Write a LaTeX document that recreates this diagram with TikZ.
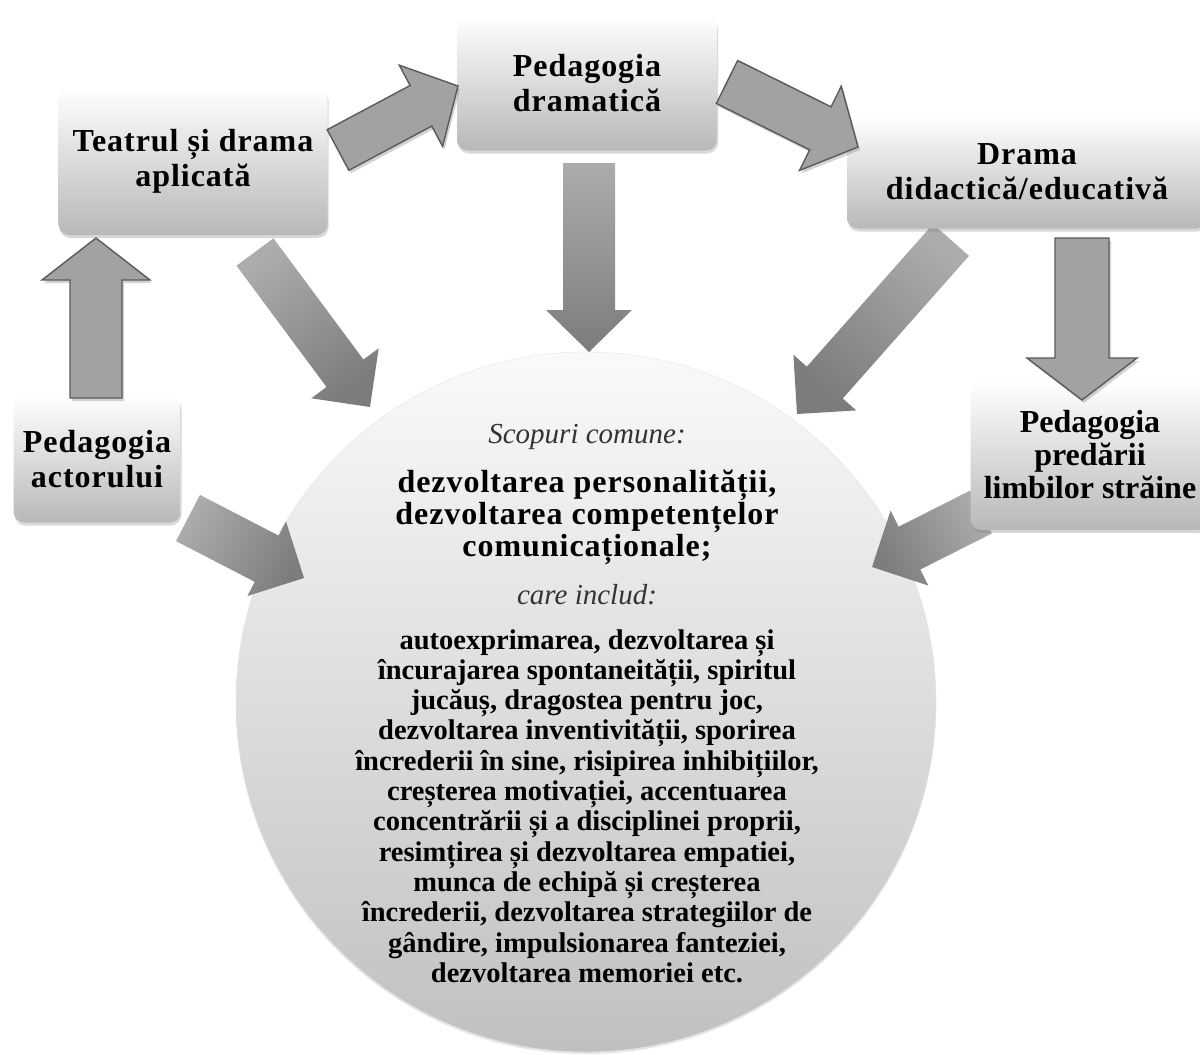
\documentclass[tikz,border=0pt]{standalone}
\usepackage{fontspec}
\setmainfont{Liberation Serif}
\newfontfamily\widefont[LetterSpace=3]{Liberation Serif}
\usetikzlibrary{calc,shadows}

\definecolor{arrowfill}{HTML}{A2A2A2}
\definecolor{arrowline}{HTML}{5A5A5A}
\definecolor{arrowtail}{HTML}{ACACAC}
\definecolor{arrowtip}{HTML}{7C7C7C}
\definecolor{boxbottom}{HTML}{B8B8B8}
\definecolor{ballbottom}{HTML}{C0C0C0}

\tikzset{
  box/.style={rounded corners=11pt, inner sep=0pt, align=center,
    top color=white, bottom color=boxbottom,
    font=\widefont\fontsize{32}{35}\selectfont\bfseries,
    drop shadow={shadow xshift=1pt, shadow yshift=-3pt, opacity=0.3}},
  ball/.style={circle, inner sep=0pt, top color=black!2, bottom color=ballbottom,
    draw=black!10, drop shadow={shadow xshift=0pt, shadow yshift=-2pt, opacity=0.2}},
  outarrow/.style={fill=arrowfill, draw=arrowline, line width=1.4pt, line join=miter,
    drop shadow={shadow xshift=2pt, shadow yshift=-3pt, opacity=0.35}},
  fadearrow/.style={top color=arrowtail, bottom color=arrowtip, shading angle=#1},
  fadearrow/.default=0,
  thin label/.style={font=\fontsize{29}{31}\selectfont\itshape, text=black!80}
}

% block arrow: style, tail, tip, half width of shaft, half width of head
\newcommand{\blockarrow}[5]{%
  \coordinate (neck) at ($(#3)!42pt!(#2)$);
  \path[#1] ($(#2)!#4!90:(#3)$) -- ($(neck)!#4!90:(#3)$) -- ($(neck)!#5!90:(#3)$)
    -- (#3) -- ($(neck)!#5!-90:(#3)$) -- ($(neck)!#4!-90:(#3)$) -- ($(#2)!#4!-90:(#3)$) -- cycle;
}

\begin{document}
\begin{tikzpicture}[x=1pt,y=-1pt]
  \fill[white] (0,0) rectangle (1200,1055);
  \useasboundingbox (0,0) rectangle (1200,1055);

  % the common aims
  \node[ball, minimum size=700pt] (ball) at (586,702) {};

  % arrow ends
  \coordinate (teatru-out) at (338,150);  \coordinate (dram-in) at (458,86);
  \coordinate (dram-out) at (727,82);     \coordinate (drama-in) at (858,147);
  \coordinate (dram-down) at (589,163);   \coordinate (ball-top) at (589,352);
  \coordinate (teatru-down) at (255,252); \coordinate (ball-nw) at (370,407);
  \coordinate (drama-down) at (951,240);  \coordinate (ball-ne) at (797,414);
  \coordinate (drama-right) at (1082,238);\coordinate (limbi-in) at (1082,400);
  \coordinate (actor-up) at (96,398);     \coordinate (teatru-in) at (96,238);
  \coordinate (actor-out) at (188,518);   \coordinate (ball-w) at (304,578);
  \coordinate (limbi-out) at (981,512);   \coordinate (ball-e) at (872,567);

  \blockarrow{fadearrow}{dram-down}{ball-top}{26pt}{43pt}
  \blockarrow{fadearrow=36}{teatru-down}{ball-nw}{23pt}{42pt}
  \blockarrow{fadearrow=-41}{drama-down}{ball-ne}{24pt}{42pt}
  \blockarrow{fadearrow=63}{actor-out}{ball-w}{26pt}{42pt}
  \blockarrow{fadearrow=-63}{limbi-out}{ball-e}{24pt}{42pt}

  % boxes
  \node[box, minimum width=269pt, minimum height=148pt] (teatru) at (193,161) {Teatrul și drama\\aplicată};
  \node[box, minimum width=260pt, minimum height=135pt] (dram) at (587,83) {Pedagogia\\dramatică};
  \node[box, minimum width=360pt, minimum height=113pt] (drama) at (1027,172) {Drama\\didactică/educativă};
  \node[box, minimum width=167pt, minimum height=127pt] (actor) at (97,459) {Pedagogia\\actorului};
  \node[box, minimum width=239pt, minimum height=150pt, font=\fontsize{32}{33}\selectfont\bfseries] (limbi) at (1090,455) {Pedagogia\\predării\\limbilor străine};

  \blockarrow{outarrow}{teatru-out}{dram-in}{23pt}{46pt}
  \blockarrow{outarrow}{dram-out}{drama-in}{24pt}{47pt}
  \blockarrow{outarrow}{drama-right}{limbi-in}{27pt}{55pt}
  \blockarrow{outarrow}{actor-up}{teatru-in}{26pt}{54pt}

  % texts in the circle
  \node[thin label] (scop) at (587,437) {Scopuri comune:};
  \node[font=\widefont\fontsize{32}{32}\selectfont\bfseries, align=center] (scop-text) at (587,517)
    {dezvoltarea personalității,\\dezvoltarea competențelor\\comunicaționale;};
  \node[thin label] (care) at (587,595) {care includ:};
  \node[font=\fontsize{28.5}{30.3}\selectfont\bfseries, align=center] (incl) at (587,806)
    {autoexprimarea, dezvoltarea și\\
     încurajarea spontaneității, spiritul\\
     jucăuș, dragostea pentru joc,\\
     dezvoltarea inventivității, sporirea\\
     încrederii în sine, risipirea inhibițiilor,\\
     creșterea motivației, accentuarea\\
     concentrării și a disciplinei proprii,\\
     resimțirea și dezvoltarea empatiei,\\
     munca de echipă și creșterea\\
     încrederii, dezvoltarea strategiilor de\\
     gândire, impulsionarea fanteziei,\\
     dezvoltarea memoriei etc.};
\end{tikzpicture}
\end{document}
